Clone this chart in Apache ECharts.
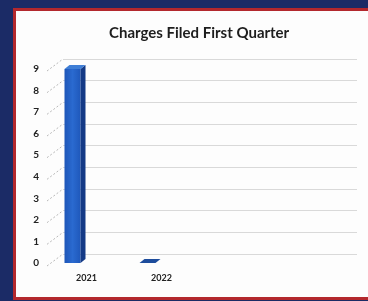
<!DOCTYPE html>
<html>
<head>
<meta charset="utf-8">
<script src="https://cdn.jsdelivr.net/npm/echarts@6/dist/echarts.min.js"></script>
<style>
  body { margin: 0; background: #1b2b66; overflow: hidden; }
  .frame {
    position: absolute; left: 13px; top: 8px; width: 380px; height: 286px;
    border: 3px solid #b3282d; background: #fdfdfd;
  }
  #chart { position: absolute; left: 0; top: 0; width: 368px; height: 301px; }
</style>
</head>
<body>
<div class="frame"></div>
<div id="chart"></div>
<script>
// data
var years = ['2021', '2022'];
var charges = [9, 0];
var yTicks = [0, 1, 2, 3, 4, 5, 6, 7, 8, 9];

var chart = echarts.init(document.getElementById('chart'));

// 3d-ish bar: front face, side face, top face
function drawBar(params, api) {
  var x = api.value(0);
  var v = api.value(1);
  var base = api.coord([x, 0]);
  var top = api.coord([x, v]);
  var w = 16, dx = 5, dy = 4;
  var l = base[0] - w / 2, r = base[0] + w / 2;
  var children = [];
  if (v > 0) {
    children.push({
      type: 'rect',
      shape: { x: l, y: top[1], width: w, height: base[1] - top[1] },
      style: {
        fill: new echarts.graphic.LinearGradient(0, 0, 1, 0, [
          { offset: 0, color: '#1e56b8' }, { offset: 0.5, color: '#2a6ad0' }, { offset: 1, color: '#1f58bb' }
        ])
      }
    });
    children.push({
      type: 'polygon',
      shape: { points: [[r, top[1]], [r + dx, top[1] - dy], [r + dx, base[1] - dy], [r, base[1]]] },
      style: { fill: '#143a86' }
    });
  }
  children.push({
    type: 'polygon',
    shape: { points: [[l, top[1]], [l + dx, top[1] - dy], [r + dx, top[1] - dy], [r, top[1]]] },
    style: { fill: v > 0 ? '#3f7ed6' : '#1d4c9c' }
  });
  return { type: 'group', children: children };
}

// little floor lines from labels to the back wall
function drawFloor(params, api) {
  var p = api.coord([0, api.value(1)]);
  return {
    type: 'line',
    shape: { x1: p[0] - 16, y1: p[1] + 12, x2: p[0], y2: p[1] },
    style: { stroke: '#b8b8b8', lineWidth: 1, lineDash: [2, 2] }
  };
}

var option = {
  animation: false,
  title: {
    text: 'Charges Filed First Quarter',
    left: 104,
    top: 21,
    textStyle: { fontFamily: 'Lato', fontWeight: 'bold', fontSize: 15, color: '#1e1e1e' }
  },
  grid: [
    { left: 63, right: 11, top: 59, bottom: 47 },   // back wall
    { left: 35, width: 150, top: 69, bottom: 38 }   // front plane
  ],
  xAxis: [
    { gridIndex: 0, type: 'value', min: 0, max: 1, show: false },
    {
      gridIndex: 1, type: 'category', data: years,
      axisLine: { show: false }, axisTick: { show: false },
      axisLabel: {
        margin: 11, padding: [0, 0, 0, 28],
        fontFamily: 'Lato', fontWeight: 'bold', fontSize: 9, color: '#222'
      }
    }
  ],
  yAxis: [
    {
      gridIndex: 0, type: 'value', min: 0, max: 9, interval: 1,
      axisLine: { show: false }, axisTick: { show: false }, axisLabel: { show: false },
      splitLine: { lineStyle: { color: '#d9d9d9', width: 1 } }
    },
    {
      gridIndex: 1, type: 'value', min: 0, max: 9, interval: 1,
      axisLine: { show: false }, axisTick: { show: false }, splitLine: { show: false },
      axisLabel: { margin: -4, fontFamily: 'Lato', fontWeight: 'bold', fontSize: 10, color: '#222' }
    }
  ],
  series: [
    {
      type: 'custom', xAxisIndex: 0, yAxisIndex: 0,
      renderItem: drawFloor,
      data: yTicks.map(function (t) { return [0, t]; })
    },
    {
      type: 'custom', xAxisIndex: 1, yAxisIndex: 1,
      renderItem: drawBar,
      data: years.map(function (y, i) { return [i, charges[i]]; })
    }
  ]
};
chart.setOption(option);
</script>
</body>
</html>
